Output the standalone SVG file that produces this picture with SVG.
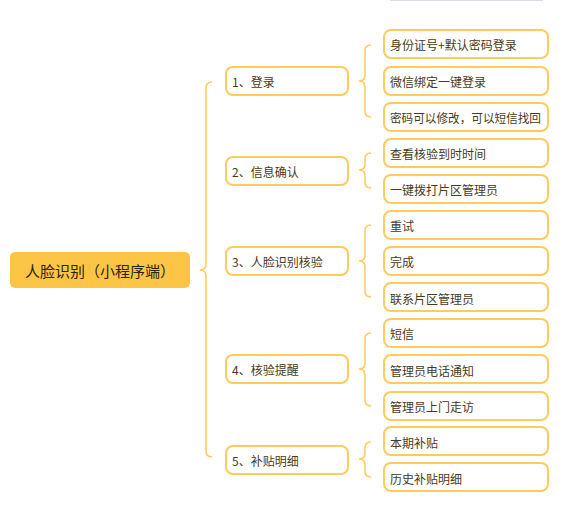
<svg xmlns="http://www.w3.org/2000/svg" width="576" height="518" viewBox="0 0 576 518">
<style>
text{font-family:"Noto Sans CJK SC","Liberation Sans",sans-serif;dominant-baseline:central}
.root{fill:#FDC545}
.rt{font-size:15px;fill:#2b2414}
.n{fill:#fff;stroke:#FFCB5E;stroke-width:2}
.t{font-size:12px;fill:#4a3a20}
.br{fill:none;stroke:#FFCB5E;stroke-width:1.6}
</style>
<rect x="390" y="-1" width="153" height="2" fill="#d9dcea"/>
<g id="connectors">
<path class="br" d="M212,82 Q206,82 206,88 L206,264 Q206,270 200,270 Q206,270 206,276 L206,451 Q206,457 212,457"/>
<path class="br" d="M371,45 Q365,45 365,51 L365,75 Q365,81 359,81 Q365,81 365,87 L365,111 Q365,117 371,117"/>
<path class="br" d="M371,153 Q365,153 365,159 L365,164 Q365,170 359,170 Q365,170 365,176 L365,182 Q365,188 371,188"/>
<path class="br" d="M371,225 Q365,225 365,231 L365,255 Q365,261 359,261 Q365,261 365,267 L365,291 Q365,297 371,297"/>
<path class="br" d="M371,333 Q365,333 365,339 L365,363 Q365,369 359,369 Q365,369 365,375 L365,400 Q365,406 371,406"/>
<path class="br" d="M371,442 Q365,442 365,448 L365,453 Q365,459 359,459 Q365,459 365,465 L365,471 Q365,477 371,477"/>
</g>
<g id="root"><rect class="root" x="10" y="252" width="180" height="36" rx="5"/><text class="rt" x="25" y="270">人脸识别（小程序端）</text></g>
<g id="n1"><rect class="n" x="226" y="67" width="122" height="28" rx="7"/><text class="t" x="232" y="81">1、登录</text></g>
<g id="n2"><rect class="n" x="226" y="157" width="122" height="28" rx="7"/><text class="t" x="232" y="171">2、信息确认</text></g>
<g id="n3"><rect class="n" x="226" y="247" width="122" height="28" rx="7"/><text class="t" x="232" y="261">3、人脸识别核验</text></g>
<g id="n4"><rect class="n" x="226" y="355" width="122" height="28" rx="7"/><text class="t" x="232" y="369">4、核验提醒</text></g>
<g id="n5"><rect class="n" x="226" y="446" width="122" height="28" rx="7"/><text class="t" x="232" y="460">5、补贴明细</text></g>
<g id="c1"><rect class="n" x="384" y="30" width="164" height="28" rx="7"/><text class="t" x="390" y="44.5">身份证号+默认密码登录</text></g>
<g id="c2"><rect class="n" x="384" y="67" width="164" height="28" rx="7"/><text class="t" x="390" y="81">微信绑定一键登录</text></g>
<g id="c3"><rect class="n" x="384" y="103" width="164" height="28" rx="7"/><text class="t" x="390" y="117.5" textLength="151" lengthAdjust="spacingAndGlyphs">密码可以修改，可以短信找回</text></g>
<g id="c4"><rect class="n" x="384" y="139" width="164" height="28" rx="7"/><text class="t" x="390" y="153">查看核验到时时间</text></g>
<g id="c5"><rect class="n" x="384" y="175" width="164" height="28" rx="7"/><text class="t" x="390" y="189.5">一键拨打片区管理员</text></g>
<g id="c6"><rect class="n" x="384" y="211" width="164" height="28" rx="7"/><text class="t" x="390" y="225">重试</text></g>
<g id="c7"><rect class="n" x="384" y="247" width="164" height="28" rx="7"/><text class="t" x="390" y="261.5">完成</text></g>
<g id="c8"><rect class="n" x="384" y="283" width="164" height="28" rx="7"/><text class="t" x="390" y="298">联系片区管理员</text></g>
<g id="c9"><rect class="n" x="384" y="319" width="164" height="28" rx="7"/><text class="t" x="390" y="333">短信</text></g>
<g id="c10"><rect class="n" x="384" y="355" width="164" height="28" rx="7"/><text class="t" x="390" y="370">管理员电话通知</text></g>
<g id="c11"><rect class="n" x="384" y="392" width="164" height="28" rx="7"/><text class="t" x="390" y="406">管理员上门走访</text></g>
<g id="c12"><rect class="n" x="384" y="427" width="164" height="28" rx="7"/><text class="t" x="390" y="442">本期补贴</text></g>
<g id="c13"><rect class="n" x="384" y="463" width="164" height="28" rx="7"/><text class="t" x="390" y="478">历史补贴明细</text></g>
</svg>
